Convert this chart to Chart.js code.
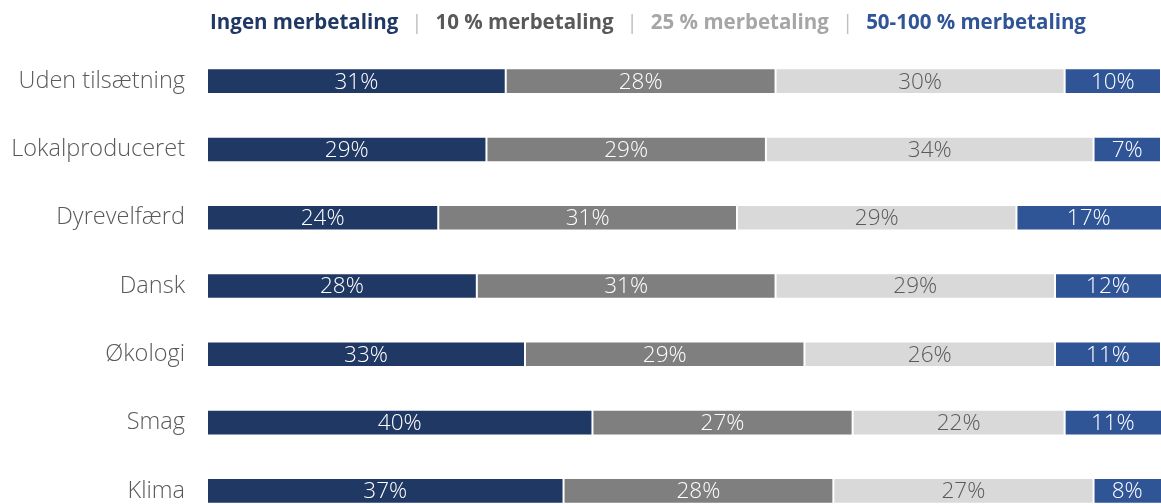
<!DOCTYPE html>
<html lang="da">
<head>
<meta charset="utf-8">
<title>Merbetaling</title>
<script src="https://cdn.jsdelivr.net/npm/chart.js@4/dist/chart.umd.min.js"></script>
<style>
  html, body { margin: 0; padding: 0; background: #ffffff; overflow: hidden; }
  #wrap { position: relative; width: 1161px; height: 525px; }
</style>
</head>
<body>
<div id="wrap"><canvas id="chart" width="1161" height="525"></canvas></div>
<script>
// Categories (top to bottom)
const categories = ['Uden tilsætning', 'Lokalproduceret', 'Dyrevelfærd', 'Dansk', 'Økologi', 'Smag', 'Klima'];

// Share of respondents per willingness-to-pay level (%)
const ingenMerbetaling = [31, 29, 24, 28, 33, 40, 37];
const tiProcent        = [28, 29, 31, 31, 29, 27, 28];
const femogtyveProcent = [30, 34, 29, 29, 26, 22, 27];
const halvtredsTilHundrede = [10, 7, 17, 12, 11, 11, 8];

// Series names shown in the header line
const seriesNames = ['Ingen merbetaling', '10 % merbetaling', '25 % merbetaling', '50-100 % merbetaling'];

const barColors   = ['#203864', '#7f7f7f', '#d9d9d9', '#2f5597'];
const headerColors = ['#203864', '#595959', '#a6a6a6', '#2f5597'];
const labelColors = ['#ffffff', '#ffffff', '#5a5a5a', '#ffffff'];

const bodyFont = "'Open Sans', 'Lato', sans-serif";

// Coloured header line: series names separated by "|"
const headerPlugin = {
  id: 'headerLine',
  afterDraw(chart) {
    const ctx = chart.ctx;
    ctx.save();
    ctx.textBaseline = 'alphabetic';
    const boldFont = `700 20.5px ${bodyFont}`;
    const sepFont = `400 20.5px ${bodyFont}`;
    const gap = 13;
    const parts = [];
    seriesNames.forEach((name, i) => {
      if (i > 0) parts.push({ text: '|', font: sepFont, color: '#bfbfbf' });
      parts.push({ text: name, font: boldFont, color: headerColors[i] });
    });
    let total = 0;
    parts.forEach((p, i) => {
      ctx.font = p.font;
      p.w = ctx.measureText(p.text).width;
      total += p.w + (i > 0 ? gap : 0);
    });
    let x = 648 - total / 2;
    parts.forEach((p, i) => {
      if (i > 0) x += gap;
      ctx.font = p.font;
      ctx.fillStyle = p.color;
      ctx.textAlign = 'left';
      ctx.fillText(p.text, x, 29);
      x += p.w;
    });
    ctx.restore();
  }
};

// Percentage labels centred in each visible segment
const segmentLabels = {
  id: 'segmentLabels',
  afterDatasetsDraw(chart) {
    const ctx = chart.ctx;
    const area = chart.chartArea;
    ctx.save();
    ctx.font = `300 22.5px ${bodyFont}`;
    ctx.textAlign = 'center';
    ctx.textBaseline = 'middle';
    chart.data.datasets.forEach((ds, di) => {
      const meta = chart.getDatasetMeta(di);
      meta.data.forEach((el, i) => {
        const left = Math.max(Math.min(el.base, el.x), area.left);
        const right = Math.min(Math.max(el.base, el.x), area.right);
        if (right <= left) return;
        ctx.fillStyle = labelColors[di];
        ctx.fillText(ds.data[i] + '%', (left + right) / 2, el.y + 1);
      });
    });
    ctx.restore();
  }
};

const seriesData = [ingenMerbetaling, tiProcent, femogtyveProcent, halvtredsTilHundrede];

new Chart(document.getElementById('chart'), {
  type: 'bar',
  data: {
    labels: categories,
    datasets: seriesData.map((values, i) => ({
      label: seriesNames[i],
      data: values,
      backgroundColor: barColors[i],
      borderColor: '#ffffff',
      borderWidth: 1,
      borderSkipped: false,
      categoryPercentage: 1,
      barPercentage: 0.375
    }))
  },
  options: {
    indexAxis: 'y',
    responsive: false,
    animation: false,
    events: [],
    layout: { padding: { top: 47, right: 0, bottom: 0, left: 0 } },
    plugins: {
      legend: { display: false },
      title: { display: false },
      tooltip: { enabled: false }
    },
    scales: {
      x: {
        stacked: true,
        display: false,
        min: 0,
        max: 99
      },
      y: {
        stacked: true,
        grid: { display: false, drawTicks: false },
        border: { display: false },
        ticks: {
          color: '#595959',
          font: { family: bodyFont, size: 23.5, weight: '300' },
          padding: 22
        },
        afterFit(scale) {
          scale.width = 207;
          scale.paddingTop = 0;
          scale.paddingBottom = 0;
        }
      }
    }
  },
  plugins: [headerPlugin, segmentLabels]
});
</script>
</body>
</html>
